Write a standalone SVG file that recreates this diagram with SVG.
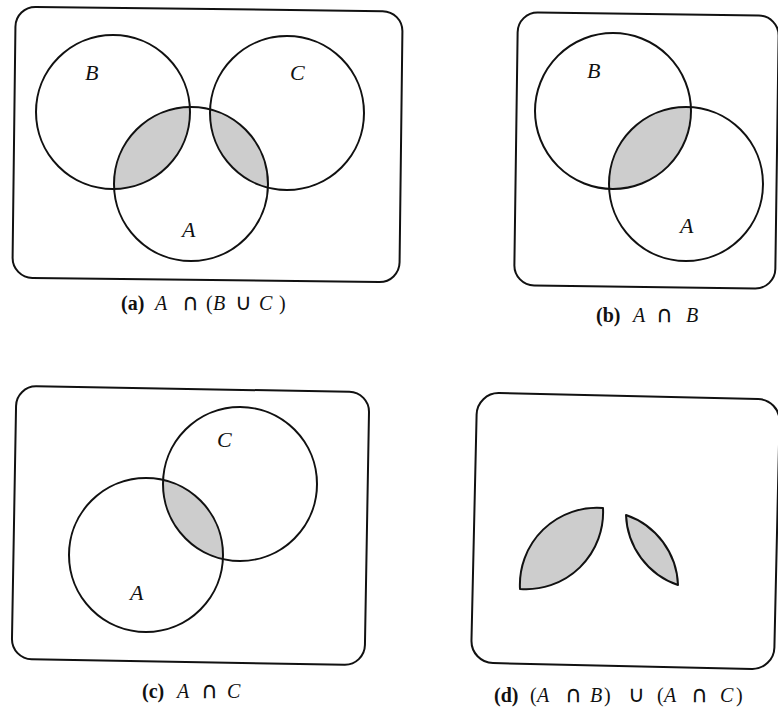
<svg xmlns="http://www.w3.org/2000/svg" width="778" height="708" viewBox="0 0 778 708">
<style>
.box{fill:none;stroke:#111;stroke-width:2}
.c{fill:none;stroke:#111;stroke-width:2}
.sh{fill:#cdcdcd;stroke:none}
.lens{fill:#cdcdcd;stroke:#111;stroke-width:2;stroke-linejoin:round}
.lbl{font-family:"Liberation Serif","DejaVu Serif",serif;font-style:italic;font-size:22px;fill:#111}
.cap{font-family:"Liberation Serif","DejaVu Serif",serif;font-size:20px;fill:#111}
.b{font-weight:bold;font-style:normal}
.i{font-style:italic}
.op{font-family:"DejaVu Sans",sans-serif;font-size:23px}
</style>
<rect width="778" height="708" fill="#fff"/>
<g id="panel-a">
<rect class="box" x="14" y="9" width="387" height="271" rx="20" transform="rotate(0.7 207 145)"/>
<path class="sh" d="M190,107 A77,77 0 0 0 114,189 A77,77 0 0 0 190,107 Z"/>
<path class="sh" d="M210,109 A77,77 0 0 0 268,188 A77,77 0 0 0 210,109 Z"/>
<circle class="c" cx="113" cy="112" r="77"/>
<circle class="c" cx="287" cy="113" r="77"/>
<circle class="c" cx="191" cy="184" r="77"/>
<text class="lbl" x="85" y="80">B</text>
<text class="lbl" x="290" y="80">C</text>
<text class="lbl" x="182" y="237">A</text>
<text class="cap" y="310"><tspan class="b" x="121">(a)</tspan><tspan class="i" x="155">A</tspan><tspan class="op" x="182">∩</tspan><tspan x="206">(</tspan><tspan class="i" x="213">B</tspan><tspan class="op" x="235">∪</tspan><tspan class="i" x="259">C</tspan><tspan x="279">)</tspan></text>
</g>
<g id="panel-b">
<rect class="box" x="516" y="14" width="261" height="273" rx="20" transform="rotate(0.8 646 150)"/>
<path class="sh" d="M690,107 A77,77 0 0 0 609,188 A77,77 0 0 0 690,107 Z"/>
<circle class="c" cx="613" cy="111" r="78"/>
<circle class="c" cx="686" cy="184" r="77"/>
<text class="lbl" x="587" y="78">B</text>
<text class="lbl" x="680" y="233">A</text>
<text class="cap" y="322"><tspan class="b" x="596">(b)</tspan><tspan class="i" x="633">A</tspan><tspan class="op" x="656">∩</tspan><tspan class="i" x="686">B</tspan></text>
</g>
<g id="panel-c">
<rect class="box" x="14" y="389" width="353" height="273" rx="20" transform="rotate(1 190 525)"/>
<path class="sh" d="M163,480 A77,77 0 0 0 223,559 A77,77 0 0 0 163,480 Z"/>
<circle class="c" cx="240" cy="484" r="77"/>
<circle class="c" cx="146" cy="555" r="77"/>
<text class="lbl" x="217" y="447">C</text>
<text class="lbl" x="130" y="600">A</text>
<text class="cap" y="698"><tspan class="b" x="142">(c)</tspan><tspan class="i" x="177">A</tspan><tspan class="op" x="201">∩</tspan><tspan class="i" x="227">C</tspan></text>
</g>
<g id="panel-d">
<rect class="box" x="474" y="396" width="303" height="270" rx="22" transform="rotate(1.3 625 531)"/>
<path class="lens" d="M603,508 A77,77 0 0 0 520,589 A77,77 0 0 0 603,508 Z"/>
<path class="lens" d="M626,515 A77,77 0 0 0 678,585 A77,77 0 0 0 626,515 Z"/>
<text class="cap" y="702"><tspan class="b" x="494">(d)</tspan><tspan x="530">(</tspan><tspan class="i" x="537">A</tspan><tspan class="op" x="565">∩</tspan><tspan class="i" x="590">B</tspan><tspan x="604">)</tspan><tspan class="op" x="628">∪</tspan><tspan x="657">(</tspan><tspan class="i" x="664">A</tspan><tspan class="op" x="691">∩</tspan><tspan class="i" x="720">C</tspan><tspan x="736">)</tspan></text>
</g>
<g id="connectors"/>
</svg>
